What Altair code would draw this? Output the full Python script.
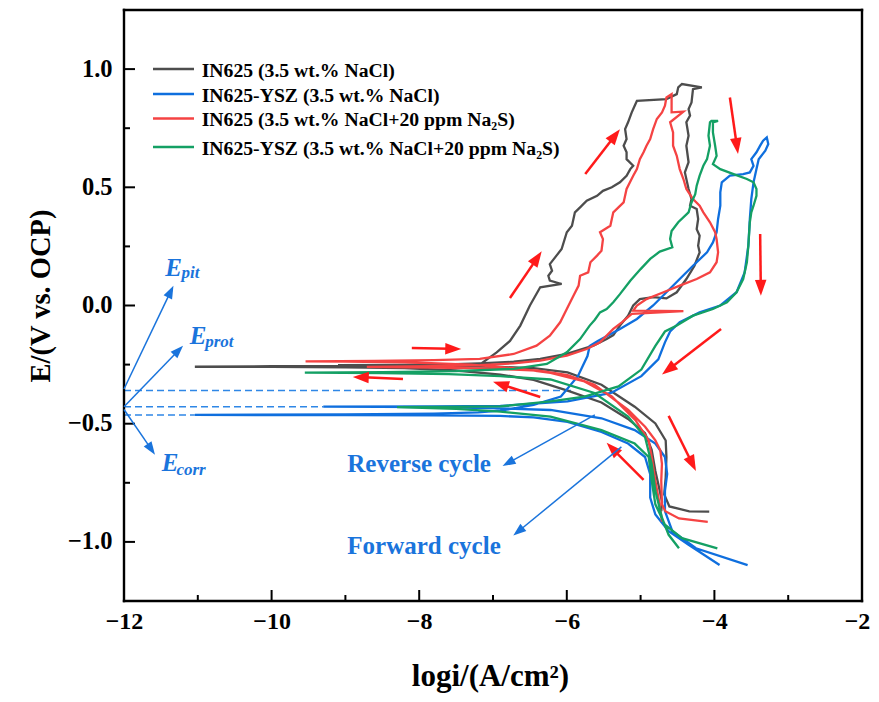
import altair as alt
import pandas as pd
import numpy as np

W, H = 738, 591
XD = [-12, -2]
YD = [-1.25, 1.25]
FONT = "Liberation Serif"

names = ["IN625 (3.5 wt.% NaCl)", "IN625-YSZ (3.5 wt.% NaCl)",
         "IN625 (3.5 wt.% NaCl+20 ppm Na₂S)", "IN625-YSZ (3.5 wt.% NaCl+20 ppm Na₂S)"]
colors = ["#4d4d4d", "#0f6fde", "#f54343", "#14a064"]

# ---------------- IN625 (NaCl) ----------------
gray_x = [-4.72, -4.71, -4.75, -4.80, -4.85, -4.94, -5.17, -5.53, -5.99, -6.45, -6.90, -7.5, -8.2, -9.0, -10.0, -11.04,
          -10.0, -9.0, -8.2, -7.6, -7.18, -6.95, -6.77, -6.63, -6.50, -6.36, -6.07, -6.23, -6.25, -6.20, -6.23, -6.14,
          -6.07, -6.00, -5.93, -5.89, -5.82, -5.73, -5.59, -5.51, -5.39, -5.28, -5.19, -5.14, -5.10, -5.19, -5.19,
          -5.23, -5.19, -5.21, -5.17, -5.12, -5.08, -5.05, -4.65, -4.51, -4.49, -4.44, -4.17,
          -4.29, -4.31, -4.35, -4.33, -4.38, -4.35, -4.38, -4.35, -4.40, -4.35, -4.31, -4.33, -4.24, -4.22, -4.24,
          -4.20, -4.22, -4.20, -4.27, -4.38, -4.51, -4.65, -4.83, -5.01, -5.10, -5.17, -5.28, -5.37, -5.46, -5.64,
          -6.00, -6.36, -6.72, -7.18, -7.63, -8.3, -9.1,
          -8.3, -7.5, -6.9, -6.45, -5.99, -5.53, -5.08, -4.80, -4.66, -4.65, -4.66, -4.68, -4.61, -4.34, -4.07]
gray_y = [-0.87, -0.83, -0.77, -0.70, -0.61, -0.54, -0.48, -0.41, -0.36, -0.315, -0.292, -0.275, -0.265, -0.262, -0.260, -0.259,
          -0.257, -0.256, -0.255, -0.253, -0.25, -0.198, -0.15, -0.085, 0.0, 0.077, 0.091, 0.105, 0.126, 0.147, 0.175, 0.211,
          0.239, 0.31, 0.337, 0.394, 0.415, 0.443, 0.464, 0.485, 0.50, 0.521, 0.549, 0.577, 0.591, 0.619, 0.648,
          0.676, 0.704, 0.746, 0.775, 0.817, 0.845, 0.866, 0.873, 0.894, 0.923, 0.937, 0.923,
          0.915, 0.859, 0.831, 0.803, 0.775, 0.718, 0.676, 0.606, 0.563, 0.493, 0.45, 0.422, 0.408, 0.366, 0.323,
          0.295, 0.253, 0.225, 0.168, 0.112, 0.056, 0.03, 0.035, 0.027, 0.0, -0.043, -0.085, -0.125, -0.142, -0.17,
          -0.205, -0.226, -0.238, -0.245, -0.249, -0.251, -0.252,
          -0.254, -0.256, -0.26, -0.265, -0.283, -0.335, -0.428, -0.499, -0.571, -0.642, -0.728, -0.799, -0.850, -0.871, -0.872]

# ---------------- IN625-YSZ (NaCl) ----------------
blue_x = [-3.93, -4.35, -4.62, -4.80, -4.87, -4.87, -4.94, -5.17, -5.53, -5.99, -6.45, -6.90, -7.8, -9.0, -11.04,
          -9.0, -7.8, -7.2, -6.9, -6.45, -6.08, -5.85, -5.72, -5.69, -5.58, -5.28, -5.05, -4.83, -4.65, -4.47, -4.29,
          -4.10, -4.02, -3.97, -3.95, -3.92, -3.92, -3.90, -3.79, -3.61, -3.52, -3.47, -3.50, -3.43, -3.38, -3.34, -3.29,
          -3.27, -3.31, -3.40, -3.43, -3.45, -3.47, -3.50, -3.52, -3.54, -3.59, -3.70, -3.92, -4.20, -4.47, -4.60, -4.67,
          -4.76, -4.99, -5.40, -5.99, -6.90, -7.8, -9.3,
          -7.8, -6.90, -6.22, -5.53, -5.08, -4.80, -4.67, -4.64, -4.67, -4.67, -4.57, -4.25, -3.55]
blue_y = [-1.098, -1.012, -0.955, -0.884, -0.813, -0.713, -0.641, -0.584, -0.535, -0.492, -0.473, -0.467, -0.465, -0.464, -0.463,
          -0.461, -0.457, -0.452, -0.445, -0.42, -0.385, -0.299, -0.214, -0.171, -0.15, -0.099, -0.057, 0.0, 0.056, 0.112, 0.168,
          0.225, 0.267, 0.31, 0.366, 0.422, 0.479, 0.521, 0.549, 0.556, 0.563, 0.591, 0.619, 0.648, 0.676, 0.697, 0.711,
          0.683, 0.655, 0.619, 0.577, 0.549, 0.521, 0.45, 0.366, 0.253, 0.14, 0.056, 0.0, -0.029, -0.071, -0.11, -0.156,
          -0.228, -0.299, -0.370, -0.406, -0.425, -0.427, -0.428,
          -0.43, -0.435, -0.442, -0.477, -0.527, -0.584, -0.641, -0.713, -0.784, -0.870, -0.955, -1.027, -1.098]

# ---------------- IN625 (NaCl + Na2S) ----------------
red_x = [-4.71, -4.75, -4.80, -4.85, -4.89, -5.07, -5.39, -5.76, -6.22, -6.68, -7.3, -8.2, -9.0, -9.54,
         -8.6, -7.8, -7.18, -6.72, -6.41, -6.23, -6.09, -6.0, -5.91, -5.84, -5.82, -5.71, -5.68, -5.59, -5.53, -5.51,
         -5.55, -5.41, -5.37, -5.23, -5.19, -5.10, -5.05, -5.01, -4.96, -4.92, -4.87, -4.83, -4.78, -4.71, -4.67,
         -4.65, -4.58,
         -4.58, -4.42, -4.60, -4.56, -4.56, -4.51, -4.47, -4.42, -4.38, -4.29, -4.20, -4.15, -4.06, -3.99, -3.97,
         -3.95, -3.97, -4.06, -4.24, -4.47, -4.69, -4.92, -5.05, -5.10, -4.42, -5.12, -5.25, -5.37, -5.55, -5.73,
         -6.0, -6.36, -6.72, -7.18, -7.8, -8.71,
         -7.8, -7.0, -6.4, -5.99, -5.625, -5.168, -4.939, -4.80, -4.733, -4.711, -4.72, -4.711, -4.665, -4.48, -4.09]
red_y = [-0.914, -0.828, -0.742, -0.642, -0.571, -0.485, -0.385, -0.321, -0.285, -0.266, -0.25, -0.24, -0.237, -0.236,
         -0.234, -0.231, -0.226, -0.205, -0.17, -0.128, -0.071, -0.015, 0.041, 0.084, 0.126, 0.14, 0.183, 0.211, 0.232, 0.281,
         0.31, 0.337, 0.394, 0.436, 0.493, 0.549, 0.577, 0.619, 0.648, 0.676, 0.704, 0.746, 0.789, 0.817, 0.845,
         0.88, 0.894,
         0.817, 0.82, 0.775, 0.732, 0.676, 0.633, 0.577, 0.535, 0.493, 0.45, 0.422, 0.394, 0.352, 0.31, 0.281,
         0.225, 0.183, 0.14, 0.112, 0.084, 0.056, 0.027, 0.0, -0.022, -0.024, -0.035, -0.07, -0.099, -0.156, -0.184,
         -0.212, -0.233, -0.245, -0.252, -0.257, -0.26,
         -0.263, -0.267, -0.275, -0.295, -0.335, -0.442, -0.513, -0.570, -0.613, -0.670, -0.741, -0.841, -0.870, -0.901, -0.915]

# ---------------- IN625-YSZ (NaCl + Na2S) ----------------
green_x = [-4.48, -4.62, -4.71, -4.80, -4.85, -4.94, -5.17, -5.625, -6.22, -6.90, -7.6, -8.5, -9.55,
           -8.5, -7.5, -6.72, -6.27, -6.00, -5.82, -5.69, -5.62, -5.55, -5.46, -5.37, -5.28, -5.14, -5.0, -4.87,
           -4.74, -4.57, -4.60, -4.58, -4.49, -4.35, -4.31, -4.26, -4.24, -4.20, -4.15, -4.10, -4.06, -4.08, -4.06,
           -4.04, -3.95,
           -4.02, -4.02, -3.99, -3.97, -4.02, -3.92, -3.74, -3.56, -3.47, -3.43, -3.43, -3.47, -3.50, -3.52, -3.54,
           -3.56, -3.61, -3.70, -3.83, -4.02, -4.29, -4.51, -4.67, -4.80, -4.99, -5.30, -5.76, -6.22, -6.90, -7.6, -8.3,
           -7.5, -6.90, -6.22, -5.53, -5.08, -4.89, -4.85, -4.80, -4.67, -4.44, -3.96]
green_y = [-1.027, -0.97, -0.898, -0.784, -0.67, -0.556, -0.47, -0.37, -0.313, -0.299, -0.29, -0.286, -0.284,
           -0.282, -0.278, -0.268, -0.247, -0.198, -0.142, -0.085, -0.06, -0.029, -0.015, 0.014, 0.048, 0.105, 0.154, 0.197,
           0.228, 0.246, 0.281, 0.315, 0.352, 0.394, 0.436, 0.471, 0.507, 0.549, 0.591, 0.619, 0.676, 0.718, 0.775,
           0.781, 0.781,
           0.775, 0.732, 0.676, 0.633, 0.598, 0.577, 0.556, 0.535, 0.521, 0.493, 0.464, 0.422, 0.394, 0.352, 0.253,
           0.183, 0.112, 0.056, 0.014, -0.015, -0.043, -0.085, -0.11, -0.171, -0.271, -0.342, -0.385, -0.406, -0.427, -0.429, -0.43,
           -0.437, -0.449, -0.470, -0.527, -0.584, -0.641, -0.741, -0.841, -0.927, -0.984, -1.027]

rows = []
for name, xs_, ys_ in zip(names, [gray_x, blue_x, red_x, green_x], [gray_y, blue_y, red_y, green_y]):
    for i, (a, b) in enumerate(zip(xs_, ys_)):
        rows.append({"series": name, "x": a, "y": b, "i": i})
curves = pd.DataFrame(rows)

# dashed reference lines (potentials) in the left part
dash_y = [-0.36, -0.428, -0.463]
dash_xend = [-5.94, -9.3, -11.04]
dashes = pd.DataFrame({"x": [-12] * 3, "x2": dash_xend, "y": dash_y})

# arrows: tail (x0, y0) -> tip (x1, y1)
red_x0 = [-8.10, -8.22, -6.36, -6.77, -5.75, -3.79, -3.38, -3.91, -4.62, -4.96]
red_y0 = [-0.18, -0.311, -0.387, 0.032, 0.556, 0.88, 0.302, -0.099, -0.467, -0.738]
red_x1 = [-7.43, -8.90, -7.00, -6.34, -5.28, -3.68, -3.37, -4.71, -4.25, -5.46]
red_y1 = [-0.184, -0.302, -0.323, 0.229, 0.746, 0.641, 0.041, -0.292, -0.70, -0.581]

blue_ax0 = [-12.0, -12.0, -12.0, -5.62, -5.26]
blue_ay0 = [-0.353, -0.428, -0.44, -0.463, -0.598]
blue_ax1 = [-11.33, -11.20, -11.58, -6.87, -6.725]
blue_ay1 = [0.084, -0.17, -0.631, -0.679, -0.973]

PXX = W / (XD[1] - XD[0])
PXY = H / (YD[1] - YD[0])


def arrow_frame(x0, y0, x1, y1, head_len):
    d = pd.DataFrame({"x": x0, "y": y0, "xt": x1, "yt": y1})
    dxp = (d.xt - d.x) * PXX
    dyp = (d.yt - d.y) * PXY
    L = np.hypot(dxp, dyp)
    d["x2"] = d.xt - (dxp / L) * head_len * 0.7 / PXX
    d["y2"] = d.yt - (dyp / L) * head_len * 0.7 / PXY
    d["ang"] = np.mod(np.degrees(np.arctan2(dxp, dyp)), 360)
    return d


red_arr = arrow_frame(red_x0, red_y0, red_x1, red_y1, 16)
blue_arr = arrow_frame(blue_ax0, blue_ay0, blue_ax1, blue_ay1, 13)

HEAD = "M0,0L-0.36,1L0.36,1Z"

xs = alt.Scale(domain=XD, nice=False, zero=False)
ys = alt.Scale(domain=YD, nice=False, zero=False)
cs = alt.Scale(domain=names, range=colors)

lines = alt.Chart(curves).mark_line(strokeWidth=2.3, clip=True).encode(
    x=alt.X("x:Q", scale=xs, title="logi/(A/cm²)",
            axis=alt.Axis(values=[-12, -10, -8, -6, -4, -2], format="d", ticks=False, domain=False, grid=False,
                          labelFlush=False, labelFont=FONT, labelFontSize=24, labelFontWeight="bold",
                          labelColor="black", labelPadding=8,
                          labelOffset=alt.condition("datum.value >= -2", alt.value(-5), alt.value(0)),
                          titleFont=FONT, titleFontSize=31,
                          titleFontWeight="bold", titleColor="black", titleX=W / 2 - 3, titleY=84,
                          titleBaseline="alphabetic", titleAlign="center")),
    y=alt.Y("y:Q", scale=ys, title="E/(V vs. OCP)",
            axis=alt.Axis(values=[-1.0, -0.5, 0.0, 0.5, 1.0], format=".1f", ticks=False, domain=False, grid=False,
                          labelFlush=False, labelFont=FONT, labelFontSize=24.5, labelFontWeight="bold",
                          labelColor="black", labelPadding=12, titleFont=FONT, titleFontSize=28.5,
                          titleFontWeight="bold", titleColor="black", titleX=-84, titleY=H / 2 - 10,
                          titleAngle=270, titleAlign="center", titleBaseline="middle")),
    color=alt.Color("series:N", scale=cs, legend=None),
    order="i:Q",
    detail="series:N",
)

# legend (drawn as key lines + labels inside the plot, upper left)
leg = pd.DataFrame({"series": names, "ly": [59, 84, 108.5, 137]})
leg["ty"] = leg["ly"] + 7.5
leg_lines = alt.Chart(leg).mark_rule(strokeWidth=2.3).encode(
    x=alt.value(29), x2=alt.value(70), y=alt.Y("ly:Q", scale=None),
    color=alt.Color("series:N", scale=cs, legend=None))
leg_text = alt.Chart(leg).mark_text(align="left", baseline="alphabetic", font=FONT, fontSize=19.7,
                                    fontWeight="bold", color="black").encode(
    x=alt.value(77.7), y=alt.Y("ty:Q", scale=None), text="series:N")

# inward ticks
xt_major = pd.DataFrame({"x": [-10, -8, -6, -4]})
xt_minor = pd.DataFrame({"x": [-11, -9, -7, -5, -3]})
yt_major = pd.DataFrame({"y": [-1.0, -0.5, 0.0, 0.5, 1.0]})
yt_minor = pd.DataFrame({"y": [-0.75, -0.25, 0.25, 0.75]})

tk = dict(color="black", strokeWidth=2)
ticks = [
    alt.Chart(xt_major).mark_rule(**tk).encode(x=alt.X("x:Q", scale=xs), y=alt.value(H), y2=alt.value(H - 11)),
    alt.Chart(xt_minor).mark_rule(**tk).encode(x=alt.X("x:Q", scale=xs), y=alt.value(H), y2=alt.value(H - 6)),
    alt.Chart(yt_major).mark_rule(**tk).encode(y=alt.Y("y:Q", scale=ys), x=alt.value(0), x2=alt.value(11)),
    alt.Chart(yt_minor).mark_rule(**tk).encode(y=alt.Y("y:Q", scale=ys), x=alt.value(0), x2=alt.value(6)),
]

# plot frame
one = pd.DataFrame({"k": [0]})
fr = dict(color="black", strokeWidth=2.4, strokeCap="square")
frame = [
    alt.Chart(one).mark_rule(**fr).encode(x=alt.value(0), x2=alt.value(W), y=alt.value(0)),
    alt.Chart(one).mark_rule(**fr).encode(x=alt.value(0), x2=alt.value(W), y=alt.value(H)),
    alt.Chart(one).mark_rule(**fr).encode(x=alt.value(0), y=alt.value(0), y2=alt.value(H)),
    alt.Chart(one).mark_rule(**fr).encode(x=alt.value(W), y=alt.value(0), y2=alt.value(H)),
]

dash_layer = alt.Chart(dashes).mark_rule(color="#2f87e6", strokeWidth=1.5, strokeDash=[7, 4]).encode(
    x=alt.X("x:Q", scale=xs), x2="x2:Q", y=alt.Y("y:Q", scale=ys))

red_shaft = alt.Chart(red_arr).mark_rule(color="#ff1a1a", strokeWidth=2.5).encode(
    x=alt.X("x:Q", scale=xs), y=alt.Y("y:Q", scale=ys), x2="x2:Q", y2="y2:Q")
red_head = alt.Chart(red_arr).mark_point(shape=HEAD, filled=True, color="#ff1a1a", opacity=1, size=1024,
                                         strokeWidth=0).encode(
    x=alt.X("xt:Q", scale=xs), y=alt.Y("yt:Q", scale=ys), angle=alt.Angle("ang:Q", scale=None))

blue_shaft = alt.Chart(blue_arr).mark_rule(color="#1a74dc", strokeWidth=1.5).encode(
    x=alt.X("x:Q", scale=xs), y=alt.Y("y:Q", scale=ys), x2="x2:Q", y2="y2:Q")
blue_head = alt.Chart(blue_arr).mark_point(shape=HEAD, filled=True, color="#1a74dc", opacity=1, size=676,
                                           strokeWidth=0).encode(
    x=alt.X("xt:Q", scale=xs), y=alt.Y("yt:Q", scale=ys), angle=alt.Angle("ang:Q", scale=None))

# annotation texts
cyc = pd.DataFrame({"x": [-8.974, -8.974], "y": [-0.705, -1.051], "t": ["Reverse cycle", "Forward cycle"]})
cyc_layer = alt.Chart(cyc).mark_text(align="left", baseline="alphabetic", font=FONT, fontSize=25,
                                     fontWeight="bold", color="#1a74dc").encode(
    x=alt.X("x:Q", scale=xs), y=alt.Y("y:Q", scale=ys), text="t:N")

e_main = pd.DataFrame({"x": [-11.44, -11.11, -11.49], "y": [0.126, -0.163, -0.699], "t": ["E", "E", "E"]})
e_sub = pd.DataFrame({"x": [-11.22, -10.90, -11.29], "y": [0.115, -0.177, -0.715], "t": ["pit", "prot", "corr"]})
e_layer = alt.Chart(e_main).mark_text(align="left", baseline="alphabetic", font=FONT, fontSize=25,
                                      fontWeight="bold", fontStyle="italic", color="#1a74dc").encode(
    x=alt.X("x:Q", scale=xs), y=alt.Y("y:Q", scale=ys), text="t:N")
esub_layer = alt.Chart(e_sub).mark_text(align="left", baseline="alphabetic", font=FONT, fontSize=17,
                                        fontWeight="bold", fontStyle="italic", color="#1a74dc").encode(
    x=alt.X("x:Q", scale=xs), y=alt.Y("y:Q", scale=ys), text="t:N")

chart = alt.layer(
    dash_layer, lines, *ticks, *frame, red_shaft, red_head, blue_shaft, blue_head, cyc_layer, e_layer,
    esub_layer, leg_lines, leg_text
).properties(
    width=W, height=H,
    autosize=alt.AutoSizeParams(type="none"),
    padding={"left": 116, "top": 2, "right": 9, "bottom": 93},
    background="white",
).configure_view(strokeWidth=0)

chart.save("out.html", embed_options={"renderer": "svg", "actions": False})
